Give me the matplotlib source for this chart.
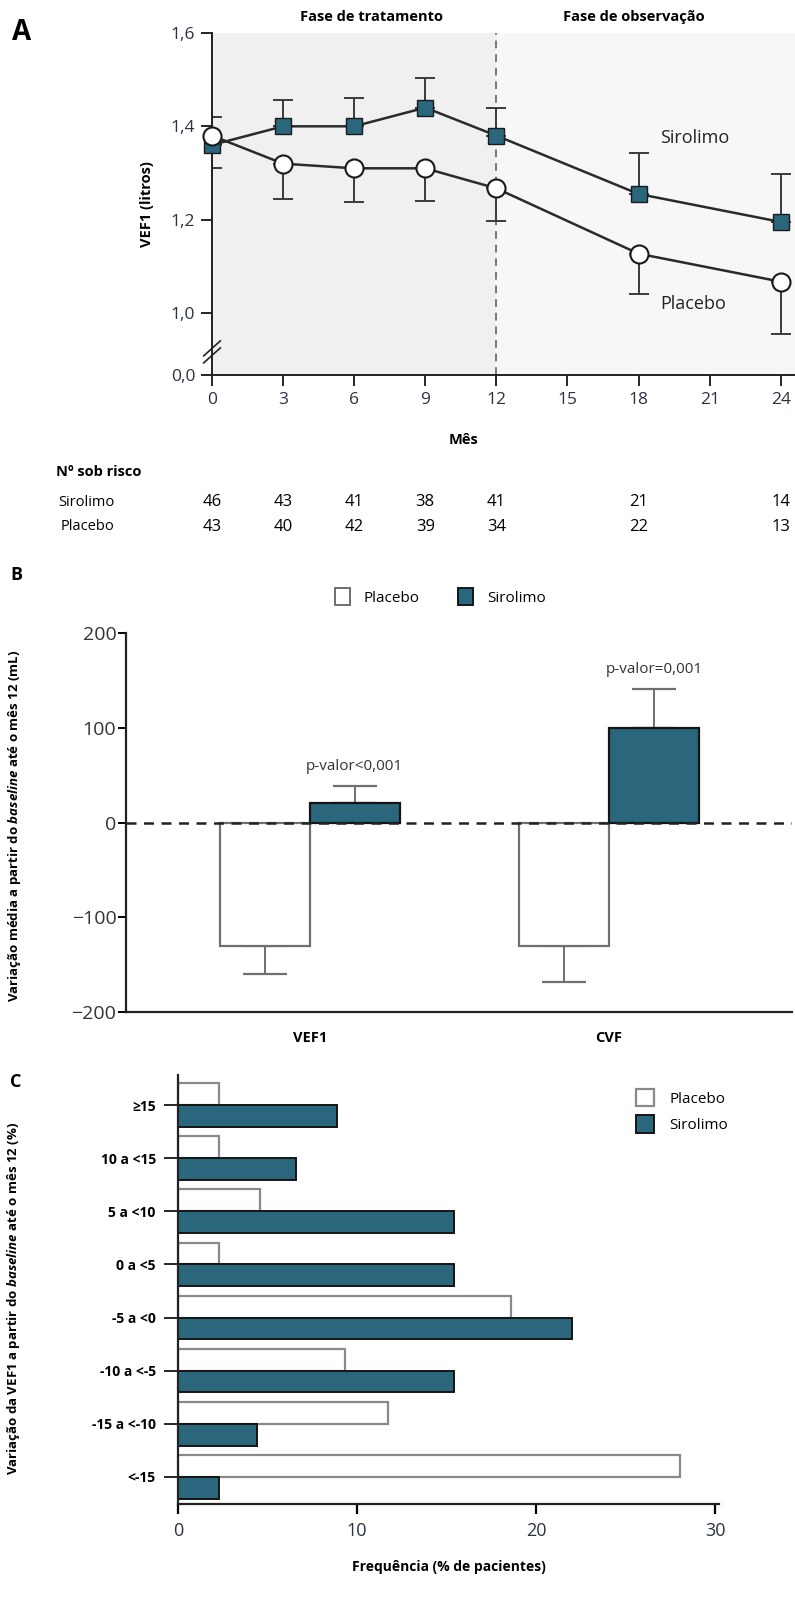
import matplotlib
matplotlib.use("Agg")
import matplotlib.pyplot as plt
from matplotlib import font_manager
from matplotlib.patches import Patch
from matplotlib.transforms import blended_transform_factory

# fonts: pick what is installed
names = {f.name for f in font_manager.fontManager.ttflist}
base = "Open Sans" if "Open Sans" in names else "DejaVu Sans"
narrow = "Liberation Sans Narrow" if "Liberation Sans Narrow" in names else base
plt.rcParams["font.family"] = [base, "DejaVu Sans"]
plt.rcParams["mathtext.fontset"] = "custom"
plt.rcParams["mathtext.it"] = base + ":italic:bold"

teal = "#2a677d"
txt_blue = "#2b3245"

# ---- panel A data ----
months = [0, 3, 6, 9, 12, 18, 24]
sir_vef = [1.36, 1.40, 1.40, 1.44, 1.38, 1.255, 1.195]
sir_up = [0.0, 0.056, 0.06, 0.063, 0.06, 0.087, 0.102]
sir_down = [0.05, 0, 0, 0, 0, 0, 0]
plac_vef = [1.38, 1.32, 1.31, 1.31, 1.267, 1.127, 1.067]
plac_up = [0.04, 0, 0, 0, 0, 0, 0]
plac_down = [0.0, 0.075, 0.072, 0.07, 0.069, 0.086, 0.112]
risk_sir = [46, 43, 41, 38, 41, 21, 14]
risk_plac = [43, 40, 42, 39, 34, 22, 13]

# ---- panel B data ----
b_groups = ["VEF1", "CVF"]
b_placebo = [-130, -130]
b_placebo_err = [30, 38]
b_sirolimo = [21, 100]
b_sirolimo_err = [18, 41]
b_pvals = ["p-valor<0,001", "p-valor=0,001"]

# ---- panel C data ----
c_cats = ["≥15", "10 a <15", "5 a <10", "0 a <5", "-5 a <0", "-10 a <-5", "-15 a <-10", "<-15"]
c_placebo = [2.3, 2.3, 4.6, 2.3, 18.6, 9.3, 11.7, 28.0]
c_sirolimo = [8.9, 6.6, 15.4, 15.4, 22.0, 15.4, 4.4, 2.3]

W, H = 795, 1604
fig = plt.figure(figsize=(W / 100, H / 100), dpi=100)


def box(l, t, r, b):
    return [l / W, 1 - b / H, (r - l) / W, (b - t) / H]


# ================= A =================
ax = fig.add_axes(box(212, 33, 795, 375))
ymin = 0.867
ax.set_xlim(0, 24.6)
ax.set_ylim(ymin, 1.6)
ax.axvspan(0, 12, color="#f0f0f0", zorder=0)
ax.axvspan(12, 24.6, color="#f7f7f7", zorder=0)
ax.axvline(12, color="#777777", ls=(0, (4, 3)), lw=1.4, zorder=1)

def draw_err(x, y, lo, hi):
    idx = [i for i in range(len(x)) if lo[i] > 0 or hi[i] > 0]
    ax.errorbar([x[i] for i in idx], [y[i] for i in idx],
                yerr=[[lo[i] for i in idx], [hi[i] for i in idx]],
                fmt="none", ecolor="#3a3a3a", elinewidth=1.4, capsize=7,
                capthick=1.4, zorder=2)

draw_err(months, sir_vef, sir_down, sir_up)
draw_err(months, plac_vef, plac_down, plac_up)
ax.plot(months, sir_vef, color="#2a2a2a", lw=1.8, marker="s", ms=11,
        mfc=teal, mec="#1a1a1a", mew=1.0, zorder=4, clip_on=False)
ax.plot(months, plac_vef, color="#2a2a2a", lw=1.8, marker="o", ms=13,
        mfc="white", mec="#1a1a1a", mew=1.5, zorder=5, clip_on=False)

ax.set_xticks(months[:5] + [15, 18, 21, 24])
ax.set_yticks([ymin, 1.0, 1.2, 1.4, 1.6])
ax.set_yticklabels(["0,0", "1,0", "1,2", "1,4", "1,6"])
ax.tick_params(direction="out", length=8, width=1.2, labelsize=12.5,
               labelcolor=txt_blue, pad=4)
for s in ["top", "right"]:
    ax.spines[s].set_visible(False)
for s in ["left", "bottom"]:
    ax.spines[s].set_linewidth(1.4)
    ax.spines[s].set_color("#222222")
ax.set_ylabel("VEF1 (litros)", fontsize=10.5, fontweight="bold", labelpad=12)

# axis break
for dy in (0, 7):
    ax.plot([-0.35, 0.35], [0.905 + dy / 465 - 0.012, 0.905 + dy / 465 + 0.02],
            color="#222222", lw=1.2, clip_on=False, zorder=6)

ax.text(6.75, 1.635, "Fase de tratamento", ha="center", va="center",
        fontsize=10.5, fontweight="bold", clip_on=False)
ax.text(17.8, 1.635, "Fase de observação", ha="center", va="center",
        fontsize=10.5, fontweight="bold", clip_on=False)
ax.text(18.9, 1.375, "Sirolimo", fontsize=13, va="center", color="#222222")
ax.text(18.9, 1.02, "Placebo", fontsize=13, va="center", color="#222222")
fig.text(12 / W, 1 - 33 / H, "A", fontsize=20, fontweight="bold", va="center")

fig.text(463 / W, 1 - 440 / H, "Mês", fontsize=10.5, fontweight="bold", ha="center", va="center")
fig.text(56 / W, 1 - 472 / H, "Nº sob risco", fontsize=10.5, fontweight="bold", va="center")
fig.text(58 / W, 1 - 502 / H, "Sirolimo", fontsize=10.5, va="center")
fig.text(61 / W, 1 - 527 / H, "Placebo", fontsize=10.5, va="center")
tr = blended_transform_factory(ax.transData, fig.transFigure)
for m, a, b in zip(months, risk_sir, risk_plac):
    ax.text(m, 1 - 502 / H, str(a), transform=tr, ha="center", va="center",
            fontsize=12, family=narrow, clip_on=False)
    ax.text(m, 1 - 527 / H, str(b), transform=tr, ha="center", va="center",
            fontsize=12, family=narrow, clip_on=False)

# ================= B =================
bx = fig.add_axes(box(126, 633, 792, 1012))
xs = list(range(len(b_groups)))
bw = 0.3
bx.bar([x - bw / 2 for x in xs], b_placebo, width=bw, color="white",
       edgecolor="#6f6f6f", lw=1.6, zorder=2)
bx.bar([x + bw / 2 for x in xs], b_sirolimo, width=bw, color=teal,
       edgecolor="#151515", lw=1.6, zorder=2)
bx.errorbar([x - bw / 2 for x in xs], b_placebo, yerr=[b_placebo_err, [0, 0]],
            fmt="none", ecolor="#6f6f6f", elinewidth=1.4, capsize=16, capthick=1.6, zorder=1)
bx.errorbar([x + bw / 2 for x in xs], b_sirolimo, yerr=[[0, 0], b_sirolimo_err],
            fmt="none", ecolor="#6f6f6f", elinewidth=1.4, capsize=16, capthick=1.6, zorder=1)
bx.axhline(0, color="#222222", ls=(0, (4, 3)), lw=1.8, zorder=3)
for x, v, e, p in zip(xs, b_sirolimo, b_sirolimo_err, b_pvals):
    bx.text(x + bw / 2, v + e + 20, p, ha="center", va="center", fontsize=11,
            family=narrow, color="#333333")
bx.set_xlim(-0.615, 1.612)
bx.set_ylim(-200, 200)
bx.set_yticks([-200, -100, 0, 100, 200])
bx.set_yticklabels(["−200", "−100", "0", "100", "200"], family=narrow)
bx.set_xticks(xs)
bx.set_xticklabels(b_groups, fontweight="bold", fontsize=10.5)
bx.tick_params(axis="y", direction="out", length=6, width=1.4, labelsize=14,
               labelcolor="#333333", pad=1)
bx.tick_params(axis="x", length=0, pad=14)
for s in ["top", "right"]:
    bx.spines[s].set_visible(False)
for s in ["left", "bottom"]:
    bx.spines[s].set_linewidth(1.6)
    bx.spines[s].set_color("#222222")
bx.set_ylabel(r"Variação média a partir do $\mathit{baseline}$ até o mês 12 (mL)",
              fontsize=9.5, fontweight="bold")
bx.yaxis.set_label_coords((23 - 126) / 666, 0.49)
fig.text(10 / W, 1 - 575 / H, "B", fontsize=13, fontweight="bold", va="center")
hb = [Patch(facecolor="white", edgecolor="#6f6f6f", lw=1.4, label="Placebo"),
      Patch(facecolor=teal, edgecolor="#151515", lw=1.4, label="Sirolimo")]
fig.legend(handles=hb, loc="center", bbox_to_anchor=(440 / W, 1 - 597 / H), ncol=2,
           frameon=False, fontsize=11, handlelength=1.0, handleheight=1.3,
           columnspacing=2.5, handletextpad=0.9)

# ================= C =================
cx = fig.add_axes(box(178, 1075, 719, 1504))
pos = list(range(len(c_cats) - 1, -1, -1))
bh = 0.41
cx.barh([p + bh / 2 for p in pos], c_placebo, height=bh, color="white",
        edgecolor="#8a8a8a", lw=1.6, label="Placebo", zorder=2)
cx.barh([p - bh / 2 for p in pos], c_sirolimo, height=bh, color=teal,
        edgecolor="#151515", lw=1.4, label="Sirolimo", zorder=2)
cx.set_xlim(0, 30.2)
cx.set_ylim(-0.51, 7.565)
cx.set_yticks(pos)
cx.set_yticklabels(c_cats, fontweight="bold", fontsize=10)
cx.set_xticks([0, 10, 20, 30])
cx.tick_params(axis="y", direction="out", length=10, width=1.2, pad=6)
cx.tick_params(axis="x", direction="out", length=7, width=1.6, labelsize=13,
               labelcolor=txt_blue, pad=6)
for s in ["top", "right"]:
    cx.spines[s].set_visible(False)
for s in ["left", "bottom"]:
    cx.spines[s].set_linewidth(1.6)
    cx.spines[s].set_color("#222222")
cx.set_xlabel("Frequência (% de pacientes)", fontsize=10, fontweight="bold", labelpad=14)
cx.set_ylabel(r"Variação da VEF1 a partir do $\mathit{baseline}$ até o mês 12 (%)",
              fontsize=9.5, fontweight="bold")
cx.yaxis.set_label_coords((22 - 178) / 541, 0.48)
fig.text(10 / W, 1 - 1082 / H, "C", fontsize=13, fontweight="bold", va="center")
cx.legend(loc="upper left", bbox_to_anchor=((622 - 178) / 541, 1.0), frameon=False,
          fontsize=11, handlelength=1.2, handleheight=1.4, labelspacing=0.55,
          handletextpad=1.0)

fig.savefig("out.png", dpi=100)
